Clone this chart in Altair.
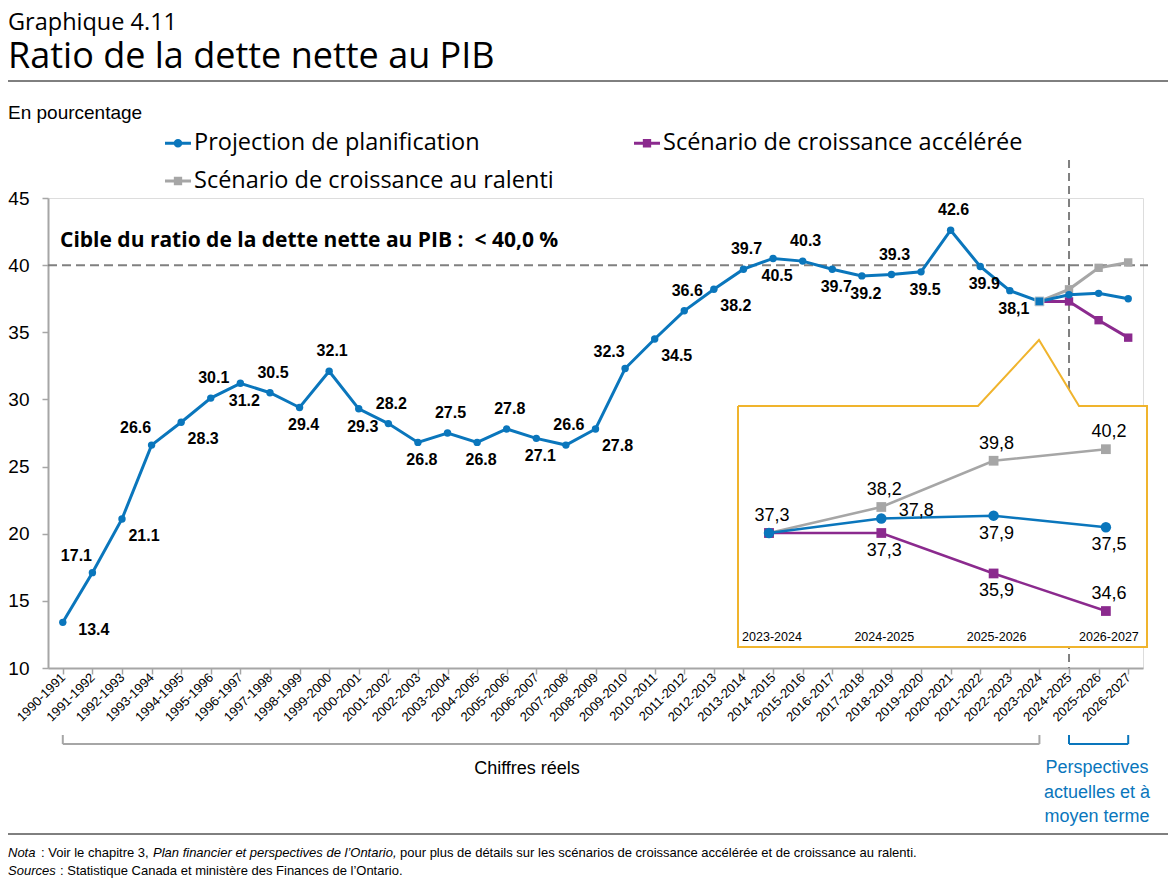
import altair as alt
import pandas as pd

# ---------------- data ----------------
YEARS = ["1990-1991", "1991-1992", "1992-1993", "1993-1994", "1994-1995", "1995-1996",
         "1996-1997", "1997-1998", "1998-1999", "1999-2000", "2000-2001", "2001-2002",
         "2002-2003", "2003-2004", "2004-2005", "2005-2006", "2006-2007", "2007-2008",
         "2008-2009", "2009-2010", "2010-2011", "2011-2012", "2012-2013", "2013-2014",
         "2014-2015", "2015-2016", "2016-2017", "2017-2018", "2018-2019", "2019-2020",
         "2020-2021", "2021-2022", "2022-2023", "2023-2024", "2024-2025", "2025-2026",
         "2026-2027"]
PLAN = [13.4, 17.1, 21.1, 26.6, 28.3, 30.1, 31.2, 30.5, 29.4, 32.1, 29.3, 28.2, 26.8,
        27.5, 26.8, 27.8, 27.1, 26.6, 27.8, 32.3, 34.5, 36.6, 38.2, 39.7, 40.5, 40.3,
        39.7, 39.2, 39.3, 39.5, 42.6, 39.9, 38.1, 37.3, 37.8, 37.9, 37.5]
PROJ_YEARS = ["2023-2024", "2024-2025", "2025-2026", "2026-2027"]
FAST = [37.3, 37.3, 35.9, 34.6]
SLOW = [37.3, 38.2, 39.8, 40.2]
PLAN_PROJ = [37.3, 37.8, 37.9, 37.5]

S_PLAN = "Projection de planification"
S_FAST = "Scénario de croissance accélérée"
S_SLOW = "Scénario de croissance au ralenti"
SERIES = [S_PLAN, S_FAST, S_SLOW]
COLORS = ["#0A76BC", "#8B2A8E", "#A6A6A6"]
Y_TICKS = [10, 15, 20, 25, 30, 35, 40, 45]
TARGET = 40
TARGET_TEXT = "Cible du ratio de la dette nette au PIB :\u00a0\u00a0< 40,0 %"
ACTUAL_RANGE = ["1990-1991", "2023-2024"]
OUTLOOK_RANGE = ["2024-2025", "2026-2027"]
OUTLOOK_START = "2024-2025"

# label placement (a=above, b=below, al=above-left, br=below-right, r=right)
LABEL_PLACE = ["r", "al", "br", "al", "br", "a", "b", "a", "b", "a", "b", "a", "b", "a",
               "b", "a", "b", "a", "br", "al", "br", "a", "br", "a", "b", "a", "b", "b",
               "a", "b", "a", "b", "b"]
INSET_PLACE = {S_PLAN: ["a", "r", "b", "b"], S_FAST: [None, "b", "b", "a"],
               S_SLOW: [None, "a", "a", "a"]}

# ---------------- styles ----------------
W, H = 1095, 470
NARROW = "Liberation Sans Narrow, Arial Narrow, Liberation Sans, Arial, sans-serif"
GEO = "Open Sans, Noto Sans, sans-serif"
AXIS_GRAY = "#A6A6A6"
DASH_GRAY = "#808080"
ORANGE = "#F0B42D"
BLUE = COLORS[0]

# ---------------- frames ----------------
main_df = pd.DataFrame({"year": YEARS, "value": PLAN, "series": S_PLAN})
labels = [f"{v:.1f}" for v in PLAN]
labels[YEARS.index("2022-2023")] = labels[YEARS.index("2022-2023")].replace(".", ",")
main_df["label"] = labels
main_df["place"] = LABEL_PLACE + [""] * (len(YEARS) - len(LABEL_PLACE))

proj_df = pd.concat([
    pd.DataFrame({"year": PROJ_YEARS, "value": SLOW, "series": S_SLOW}),
    pd.DataFrame({"year": PROJ_YEARS, "value": FAST, "series": S_FAST}),
])

color_scale = alt.Scale(domain=SERIES, range=COLORS)
col = alt.Color("series:N", scale=color_scale, legend=None)

x_axis = alt.Axis(domainColor=AXIS_GRAY, domainWidth=2, tickColor=AXIS_GRAY, tickWidth=1.5,
                  tickSize=6, labelAngle=315, labelAlign="right", labelBaseline="middle",
                  labelFont=NARROW, labelFontSize=13, labelColor="black", labelPadding=1,
                  labelOverlap=False, grid=False)
y_axis = alt.Axis(values=Y_TICKS, domainColor=AXIS_GRAY, domainWidth=2, tickColor=AXIS_GRAY,
                  tickWidth=1.5, tickSize=6, labelFont=NARROW, labelFontSize=19,
                  labelColor="black", labelPadding=13, grid=False)


def xm(field):
    return alt.X(f"{field}:O", scale=alt.Scale(type="point", domain=YEARS, padding=0.5),
                 axis=x_axis, title=None)


def ym(field):
    return alt.Y(f"{field}:Q", scale=alt.Scale(domain=[10, 45], nice=False, zero=False),
                 axis=y_axis, title=None)


base_main = alt.Chart(main_df)

# legend: a layer with no rows (legend built from the explicit scale domain); first colour layer
P_CIRCLE = ("M-1,-0.11H-0.3V0.11H-1Z M0.3,-0.11H1V0.11H0.3Z "
            "M-0.33,0A0.33,0.33,0,1,1,0.33,0A0.33,0.33,0,1,1,-0.33,0Z")
P_SQUARE = "M-1,-0.11H-0.3V0.11H-1Z M0.3,-0.11H1V0.11H0.3Z M-0.32,-0.32H0.32V0.32H-0.32Z"
leg = alt.Legend(title=None, orient="none", legendX=117, legendY=-68, columns=2,
                 direction="horizontal", columnPadding=80, rowPadding=13, labelFont=GEO,
                 labelFontSize=23.5, labelColor="black", symbolSize=676, labelOffset=3,
                 symbolStrokeWidth=0, symbolOpacity=1, labelLimit=800, padding=0)
legend_df = pd.DataFrame({"year": [YEARS[-1]] * 3, "value": [PLAN[-1], FAST[-1], SLOW[-1]],
                          "series": SERIES})
legend_layer = alt.Chart(legend_df).transform_filter("false").mark_point(filled=True, opacity=1).encode(
    x=xm("year"), y=ym("value"),
    color=alt.Color("series:N", scale=color_scale, legend=leg),
    shape=alt.Shape("series:N", scale=alt.Scale(domain=SERIES, range=[P_CIRCLE, P_SQUARE, P_SQUARE]),
                    legend=leg))

target_rule = alt.Chart(pd.DataFrame({"t": [TARGET]})).mark_rule(
    color=DASH_GRAY, strokeWidth=2, strokeDash=[9, 5]).encode(
    y=ym("t"), x=alt.value(0), x2=alt.value(W + 5))
target_text = alt.Chart(pd.DataFrame({"t": [TARGET_TEXT]})).mark_text(
    align="left", baseline="middle", font=GEO, fontSize=21, fontWeight="bold",
    color="black").encode(text="t:N", x=alt.value(12), y=alt.value(43))

vline = alt.Chart(pd.DataFrame({"year": [OUTLOOK_START]})).mark_rule(
    color=DASH_GRAY, strokeWidth=2, strokeDash=[8, 5]).encode(
    x=xm("year"), y=alt.value(-38), y2=alt.value(H))

proj_line = alt.Chart(proj_df).mark_line(strokeWidth=3).encode(x=xm("year"), y=ym("value"), color=col)
proj_pts = alt.Chart(proj_df).mark_square(size=70, opacity=1).encode(
    x=xm("year"), y=ym("value"), color=col)
plan_line = base_main.mark_line(strokeWidth=3).encode(x=xm("year"), y=ym("value"), color=col)
plan_pts = base_main.transform_filter(alt.datum.year != "2023-2024").mark_circle(
    size=55, opacity=1).encode(x=xm("year"), y=ym("value"), color=col)
plan_sq = base_main.transform_filter(alt.datum.year == "2023-2024").mark_square(
    size=80, opacity=1, stroke="#D0D0D0", strokeWidth=1).encode(
    x=xm("year"), y=ym("value"), color=col)

OFFS = {"a": (3, -20), "b": (4, 18), "al": (-16, -17), "br": (22, 17), "r": (31, 8)}
label_layers = []
for code, (dx, dy) in OFFS.items():
    label_layers.append(
        base_main.transform_filter(alt.datum.place == code).mark_text(
            font=NARROW, fontSize=16, fontWeight="bold", color="black", dx=dx, dy=dy,
            baseline="middle").encode(x=xm("year"), y=ym("value"), text="label:N"))


# brackets under the axis
def bracket(rng, color):
    h = alt.Chart(pd.DataFrame({"start": [rng[0]], "end": [rng[1]]})).mark_rule(
        strokeWidth=2, color=color).encode(x=xm("start"), x2="end:O", y=alt.value(546))
    v = alt.Chart(pd.DataFrame({"year": rng})).mark_rule(strokeWidth=2, color=color).encode(
        x=xm("year"), y=alt.value(537), y2=alt.value(546))
    return [h, v]


brackets = bracket(ACTUAL_RANGE, AXIS_GRAY) + bracket(OUTLOOK_RANGE, BLUE)

actual_txt = alt.Chart(pd.DataFrame({"t": ["Chiffres réels"]})).mark_text(
    font=NARROW, fontSize=18, color="black", baseline="middle").encode(
    text="t:N", x=alt.value(479), y=alt.value(571))
outlook_txt = alt.Chart(pd.DataFrame({"t": ["Perspectives\nactuelles et à\nmoyen terme"]})).mark_text(
    font=NARROW, fontSize=18, color=BLUE, baseline="middle", lineBreak="\n", lineHeight=24.5).encode(
    text="t:N", x=alt.value(1049), y=alt.value(570))


# titles / footer
def txt(s, x, y, size, font=GEO, weight="normal", style="normal", baseline="alphabetic"):
    return alt.Chart(pd.DataFrame({"t": [s]})).mark_text(
        align="left", baseline=baseline, font=font, fontSize=size, fontWeight=weight,
        fontStyle=style, color="black").encode(text="t:N", x=alt.value(x), y=alt.value(y))


title1 = txt("Graphique 4.11", -40, -168, 23.5)
title2 = txt("Ratio de la dette nette au PIB", -40, -130, 36)
unit = txt("En pourcentage", -40, -79, 19, font=NARROW)
hr_top = alt.Chart(pd.DataFrame({"a": [0]})).mark_rule(color="black", strokeWidth=1).encode(
    x=alt.value(-48), x2=alt.value(1130), y=alt.value(-117))
hr_bot = alt.Chart(pd.DataFrame({"a": [0]})).mark_rule(color="black", strokeWidth=1).encode(
    x=alt.value(-48), x2=alt.value(1130), y=alt.value(636))
FY1, FY2, FS = 655, 673, 13
foot = [
    txt("Nota", -40, FY1, FS, NARROW, style="italic", baseline="middle"),
    txt(": Voir le chapitre 3,", -7, FY1, FS, NARROW, baseline="middle"),
    txt("Plan financier et perspectives de l’Ontario,", 105, FY1, FS, NARROW, style="italic", baseline="middle"),
    txt("pour plus de détails sur les scénarios de croissance accélérée et de croissance au ralenti.",
        352, FY1, FS, NARROW, baseline="middle"),
    txt("Sources", -40, FY2, FS, NARROW, style="italic", baseline="middle"),
    txt(": Statistique Canada et ministère des Finances de l’Ontario.", 12, FY2, FS, NARROW, baseline="middle"),
]

main = alt.layer(legend_layer, target_rule, target_text, vline, *brackets, proj_line, proj_pts,
                 plan_line, plan_pts, plan_sq, *label_layers, actual_txt, outlook_txt,
                 title1, title2, unit, hr_top, hr_bot, *foot)

# ---------------- inset ----------------
IX0, IDX = 721, 112.3            # pixel of first inset category, pixel step
IV0, IY0, IPU = 37.3, 335, 28.9  # reference value, its pixel, pixels per unit
xi_dom = [(0 - IX0) / IDX, (W - IX0) / IDX]
yi_dom = [IV0 - (H - IY0) / IPU, IV0 + IY0 / IPU]


def xi(field):
    return alt.X(f"{field}:Q", scale=alt.Scale(domain=xi_dom, nice=False, zero=False), axis=None, title=None)


def yi(field):
    return alt.Y(f"{field}:Q", scale=alt.Scale(domain=yi_dom, nice=False, zero=False), axis=None, title=None)


def to_inset(px, py):
    return (px - 48 - IX0) / IDX, IV0 + (IY0 - (py - 198)) / IPU


# box with pointer (page pixel corners)
BOX = [(738, 406), (978, 406), (1039, 340), (1079, 406), (1147, 406), (1147, 647), (738, 647), (738, 406)]
bx = [to_inset(*p) for p in BOX]
outline_df = pd.DataFrame({"x": [p[0] for p in bx], "y": [p[1] for p in bx], "o": range(len(bx))})
rect_df = pd.DataFrame({"x0": [bx[0][0]], "x1": [bx[4][0]], "y0": [bx[0][1]], "y1": [bx[5][1]]})
tri_df = pd.DataFrame({"x": [bx[1][0], bx[2][0], bx[3][0]], "y": [bx[1][1], bx[2][1], bx[3][1]],
                       "yb": [bx[1][1]] * 3})
box_fill = alt.Chart(rect_df).mark_rect(fill="white").encode(x=xi("x0"), x2="x1:Q", y=yi("y0"), y2="y1:Q")
tri_fill = alt.Chart(tri_df).mark_area(fill="white", opacity=1).encode(x=xi("x"), y=yi("y"), y2="yb:Q")
box_line = alt.Chart(outline_df).mark_line(color=ORANGE, strokeWidth=2).encode(
    x=xi("x"), y=yi("y"), order="o:Q")

rows = []
for s, vals in [(S_SLOW, SLOW), (S_FAST, FAST), (S_PLAN, PLAN_PROJ)]:
    for i, (yr, v) in enumerate(zip(PROJ_YEARS, vals)):
        rows.append({"series": s, "idx": i, "year": yr, "value": v,
                     "label": f"{v:.1f}".replace(".", ","), "place": INSET_PLACE[s][i] or ""})
inset_df = pd.DataFrame(rows)
ib = alt.Chart(inset_df)
sq_lines = ib.transform_filter(alt.datum.series != S_PLAN).mark_line(strokeWidth=2.5).encode(
    x=xi("idx"), y=yi("value"), color=col)
sq_pts = ib.transform_filter(alt.datum.series != S_PLAN).mark_square(size=95, opacity=1).encode(
    x=xi("idx"), y=yi("value"), color=col)
pl_line = ib.transform_filter(alt.datum.series == S_PLAN).mark_line(strokeWidth=2.5).encode(
    x=xi("idx"), y=yi("value"), color=col)
pl_pts = ib.transform_filter(alt.datum.series == S_PLAN).mark_circle(size=110, opacity=1).encode(
    x=xi("idx"), y=yi("value"), color=col)
IOFFS = {"a": (3, -17), "b": (3, 18), "r": (35, -8)}
ilabels = []
for code, (dx, dy) in IOFFS.items():
    ilabels.append(ib.transform_filter(alt.datum.place == code).mark_text(
        font=NARROW, fontSize=18, color="black", dx=dx, dy=dy, baseline="middle").encode(
        x=xi("idx"), y=yi("value"), text="label:N"))
icats = alt.Chart(pd.DataFrame({"idx": list(range(len(PROJ_YEARS))), "year": PROJ_YEARS})).mark_text(
    font=NARROW, fontSize=12.5, color="black", baseline="middle", dx=3).encode(
    x=xi("idx"), text="year:N", y=alt.value(439))

inset = alt.layer(box_fill, tri_fill, box_line, sq_lines, sq_pts, pl_line, pl_pts, *ilabels, icats)

chart = alt.layer(main, inset).resolve_scale(x="independent", y="independent").properties(
    width=W, height=H, autosize=alt.AutoSizeParams(type="none"),
    padding={"left": 40, "top": 190, "right": 25, "bottom": 212},
).configure_view(stroke=None).configure(background="white")

chart.save("out.html", embed_options={"renderer": "svg", "actions": False})
